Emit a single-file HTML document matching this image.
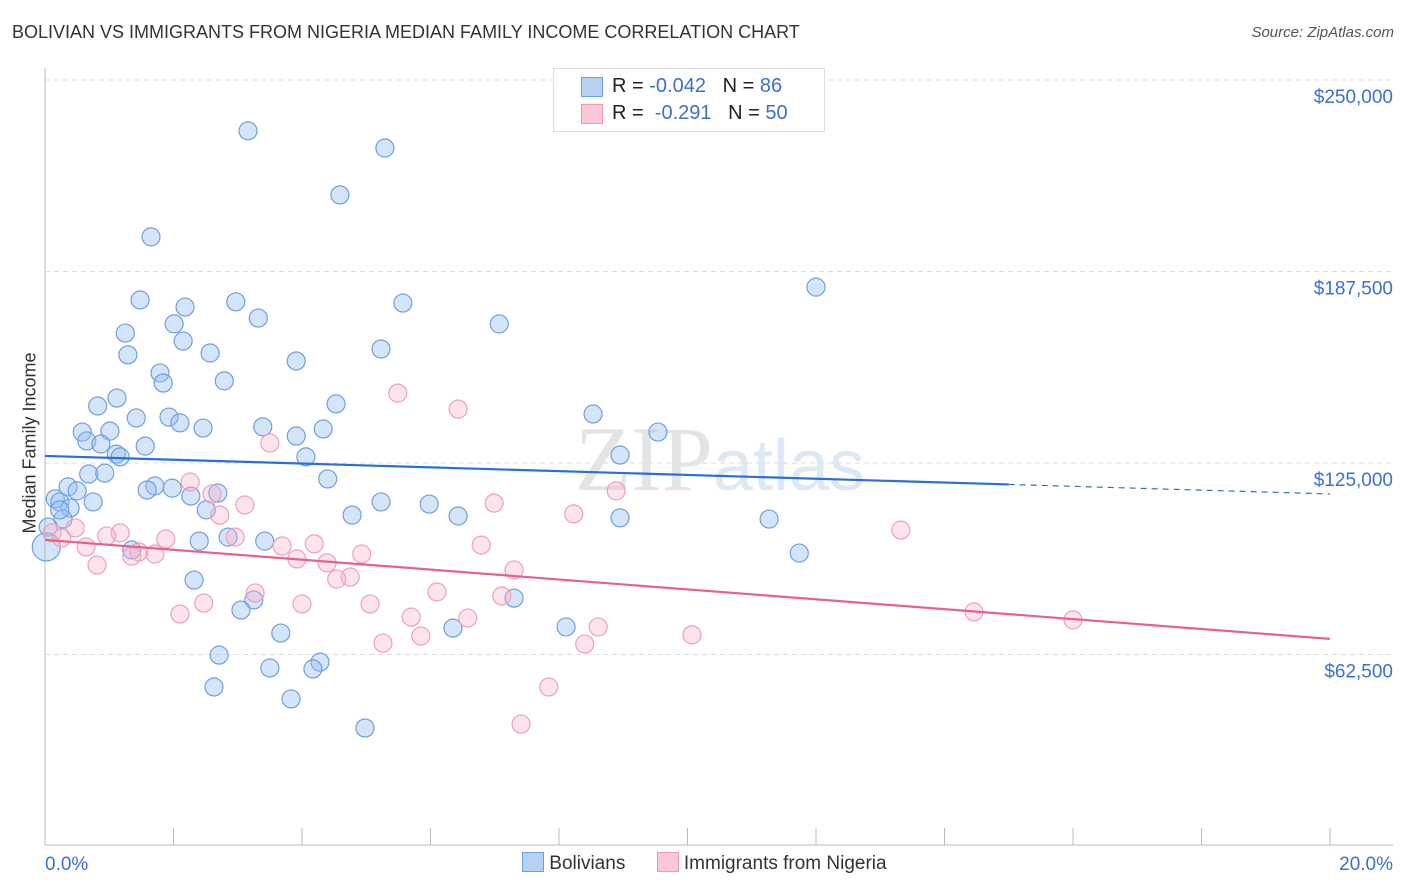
<!DOCTYPE html>
<html><head><meta charset="utf-8">
<style>
body{margin:0;background:#fff;font-family:"Liberation Sans",sans-serif;}
#wrap{position:relative;width:1406px;height:892px;overflow:hidden;}
.t{position:absolute;white-space:nowrap;}
</style></head>
<body>
<div id="wrap">
<div class="t" style="left:12px;top:22px;font-size:18px;color:#333;">BOLIVIAN VS IMMIGRANTS FROM NIGERIA MEDIAN FAMILY INCOME CORRELATION CHART</div>
<div class="t" style="right:12px;top:24px;font-size:15px;color:#555;font-style:italic;">Source: ZipAtlas.com</div>
<div class="t" style="left:-50px;top:443px;font-size:18px;color:#333;transform:rotate(-90deg);width:160px;text-align:center;">Median Family Income</div>
<svg id="chart" width="1406" height="892" style="position:absolute;left:0;top:0;"></svg>
<div style="position:absolute;left:553px;top:68px;width:270px;height:62px;border:1px solid #ddd;background:#fff;font-size:20px;">
 <div style="position:absolute;left:27px;top:8px;width:20px;height:18px;background:#b7d1f5;border:1px solid #6e9fe0;"></div>
 <div class="t" style="left:58px;top:6px;color:#222;">R = <span style="color:#3a6fd8">-0.042</span>&nbsp;&nbsp;&nbsp;N = <span style="color:#3a6fd8">86</span></div>
 <div style="position:absolute;left:27px;top:35px;width:20px;height:18px;background:#f9c7d6;border:1px solid #ec9ab4;"></div>
 <div class="t" style="left:58px;top:33px;color:#222;">R = &nbsp;<span style="color:#3a6fd8">-0.291</span>&nbsp;&nbsp;&nbsp;N = <span style="color:#3a6fd8">50</span></div>
</div>
<div style="position:absolute;left:522px;top:852px;font-size:19px;color:#333;">
 <span style="display:inline-block;"><span style="display:inline-block;width:20px;height:18px;background:#b7d1f5;border:1px solid #6e9fe0;vertical-align:-3px;"></span> Bolivians</span>
 <span style="display:inline-block;margin-left:26px;"><span style="display:inline-block;width:20px;height:18px;background:#f9c7d6;border:1px solid #ec9ab4;vertical-align:-3px;"></span> Immigrants from Nigeria</span>
</div>
</div>
<script>
const yTicks=[62500,125000,187500,250000];
const yTickLabels=["$62,500","$125,000","$187,500","$250,000"];
const xTickLabels=["0.0%","20.0%"];
const blueX=[3.16,5.29,4.59,1.65,12.0,1.48,2.18,2.97,5.57,3.32,2.01,7.07,1.25,2.15,1.29,2.57,3.91,5.23,1.79,1.84,2.79,1.12,0.82,4.53,1.42,1.93,2.10,2.46,3.39,0.58,1.01,3.91,4.33,9.54,8.53,0.65,0.87,1.56,1.11,1.17,4.06,0.68,0.93,4.40,0.36,0.50,1.71,1.59,1.98,2.27,2.69,0.16,0.23,0.75,5.23,5.98,0.39,2.51,0.28,4.78,6.43,8.95,11.27,0.05,2.85,2.40,3.42,1.35,11.74,2.32,7.30,3.25,3.05,3.67,6.35,8.11,2.71,4.28,3.50,4.17,2.63,3.83,4.98,8.95,0.02,0.23];
const blueY=[233400,227800,212500,198800,182400,178200,175900,177600,177200,172300,170400,170400,167400,164800,160300,160900,158300,162200,154400,151100,151800,146200,143600,144300,139700,140000,138100,136400,136800,135100,135400,133800,136100,135100,141000,132200,131200,130500,127900,127000,127000,121400,121700,119800,117200,115900,117500,116200,116800,114200,115200,113300,112300,112300,112300,111600,110300,109700,106700,108000,107700,107100,106700,104100,100800,99500,99500,96600,95600,86800,80900,80300,77000,69500,71100,71500,62300,60000,58100,57800,51900,48000,38500,127600,97600,109700];
const pinkX=[5.49,6.43,3.50,2.26,2.60,8.89,3.11,6.99,2.72,8.23,0.47,0.11,13.32,1.17,0.96,1.88,2.96,0.26,0.64,6.79,4.19,3.69,4.93,1.35,1.71,1.46,3.92,4.39,0.81,7.30,4.75,4.54,3.27,6.10,7.11,2.47,4.00,5.06,2.10,5.70,6.58,14.46,16.00,8.61,5.85,10.07,5.26,8.40,7.84,7.41];
const pinkY=[147800,142600,131500,118800,114900,115900,111300,111900,108000,108400,103800,102200,103100,102200,101200,100200,100800,100500,97600,98200,98600,97900,95300,94600,95300,96000,93700,92400,91700,90100,87800,87100,82600,82900,81600,79300,79000,79000,75700,74700,74400,76400,73800,71500,68500,68900,66200,65900,51900,39800];
const blueTrend=[127300,114900];
const pinkTrend=[99900,67600];

const NS="http://www.w3.org/2000/svg";
const svg=document.getElementById('chart');
const X0=45,X1=1330,YB=845;
const sx=p=>X0+(p/20)*(X1-X0);
const sy=v=>463-(v-125000)*191.5/62500;
function mk(tag,attrs){const e=document.createElementNS(NS,tag);for(const k in attrs)e.setAttribute(k,attrs[k]);svg.appendChild(e);return e;}

yTicks.forEach((v,i)=>{
  const g=mk('line',{x1:X0,x2:1393,y1:sy(v),y2:sy(v),stroke:'#ddd','stroke-dasharray':'5,4'});
  
  
  const t=mk('text',{x:1393,y:sy(v)+23,'text-anchor':'end','font-size':19,fill:'#3a6fd8','font-family':'Liberation Sans, sans-serif'});
  t.textContent=yTickLabels[i];
  
  
});
const ya=mk('line',{x1:X0,x2:X0,y1:68,y2:YB,stroke:'#bbb'});


const xa=mk('line',{x1:X0,x2:1393,y1:YB,y2:YB,stroke:'#bbb'});


for(let i=0;i<=10;i++){
  const tk=mk('line',{x1:sx(i*2),x2:sx(i*2),y1:828,y2:YB,stroke:'#bbb'});
  
  
}
[0,20].forEach((p,i)=>{
  const t=mk('text',{x:i?1393:45,y:870,'text-anchor':i?'end':'start','font-size':19,fill:'#3a6fd8','font-family':'Liberation Sans, sans-serif'});
  t.textContent=xTickLabels[i];
  
  
});
const wm=mk('text',{x:720,y:490,'text-anchor':'middle','font-size':92,fill:'#e4e4e4','font-family':'Liberation Serif, serif'});
wm.innerHTML='ZIP<tspan fill="#dde8f5" font-family="Liberation Sans, sans-serif" font-size="72">atlas</tspan>';



blueX.forEach((x,i)=>{
  const big=(x<0.1&&blueY[i]<100000);
  const c=mk('circle',{cx:sx(x),cy:sy(blueY[i]),r:big?14:9,fill:'rgba(150,190,240,0.4)',stroke:'#6e9fe0','stroke-width':1.2});
  
  
});
pinkX.forEach((x,i)=>{
  const c=mk('circle',{cx:sx(x),cy:sy(pinkY[i]),r:9,fill:'rgba(248,175,198,0.35)',stroke:'#eea0b9','stroke-width':1.2});
  
  
});
const by=p=>blueTrend[0]+(blueTrend[1]-blueTrend[0])*p/20;
const bl=mk('line',{x1:sx(0),y1:sy(by(0)),x2:sx(15),y2:sy(by(15)),stroke:'#2a6fd6','stroke-width':2.2});


const bd=mk('line',{x1:sx(15),y1:sy(by(15)),x2:sx(20),y2:sy(by(20)),stroke:'#2a6fd6','stroke-width':1.2,'stroke-dasharray':'6,5'});


const pl=mk('line',{x1:sx(0),y1:sy(pinkTrend[0]),x2:sx(20),y2:sy(pinkTrend[1]),stroke:'#e8608c','stroke-width':2.2});


</script>
</body></html>
